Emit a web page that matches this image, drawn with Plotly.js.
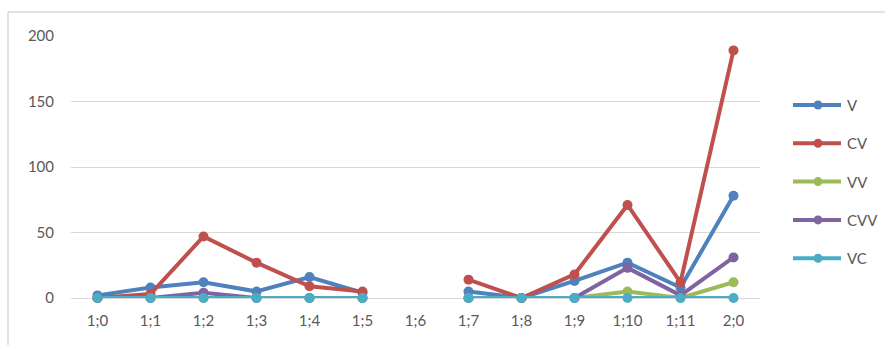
<!DOCTYPE html>
<html>
<head>
<meta charset="utf-8">
<script src="https://cdn.plot.ly/plotly-3.0.1.min.js"></script>
<style>html,body{margin:0;padding:0;background:#fff;}#chart{width:885px;height:345px;}</style>
</head>
<body>
<div id="chart"></div>
<script>
const categories = ["1;0","1;1","1;2","1;3","1;4","1;5","1;6","1;7","1;8","1;9","1;10","1;11","2;0"];
const V   = [2, 8, 12, 5, 16, 4, null, 5, 0, 13, 27, 8, 78];
const CV  = [0, 3, 47, 27, 9, 5, null, 14, 0, 18, 71, 12, 189];
const VV  = [0, 0, 0, 0, 0, 0, null, 0, 0, 0, 5, 0, 12];
const CVV = [0, 0, 4, 0, 0, 0, null, 0, 0, 0, 23, 2, 31];
const VC  = [0, 0, 0, 0, 0, 0, null, 0, 0, 0, 0, 0, 0];
const yTicks = [0, 50, 100, 150, 200];
const seriesNames = ["V","CV","VV","CVV","VC"];
const seriesValues = [V, CV, VV, CVV, VC];
const colors = ["#4F81BD","#C0504D","#9BBB59","#8064A2","#4BACC6"];

const W = 885, H = 345, L = 71, R = 125, T = 36, B = 47;
const PW = W - L - R, PH = H - T - B;
const px = p => (p - L) / PW;
const py = p => (H - B - p) / PH;

const traces = seriesNames.map((n,i)=>({
  type:'scatter', mode:'lines+markers', name:n, x:categories, y:seriesValues[i],
  connectgaps:false, cliponaxis:false, showlegend:false,
  line:{color:colors[i], width:4},
  marker:{color:colors[i], size:10, symbol:'circle'}
}));

// custom legend (Excel-style long line keys)
const shapes = [
  {type:'line', xref:'paper', yref:'paper', x0:px(8), x1:px(W), y0:py(12), y1:py(12), line:{color:'#d9d9d9', width:1.5}},
  {type:'line', xref:'paper', yref:'paper', x0:px(8), x1:px(8), y0:py(12), y1:py(H), line:{color:'#d9d9d9', width:1.5}}
];
const annotations = [];
seriesNames.forEach((n,i)=>{
  const yc = 105 + i*38.3;
  shapes.push({type:'line', xref:'paper', yref:'paper', x0:px(793), x1:px(841), y0:py(yc), y1:py(yc),
               line:{color:colors[i], width:4}});
  shapes.push({type:'circle', xref:'paper', yref:'paper', x0:px(813.5), x1:px(822.5), y0:py(yc-4.5), y1:py(yc+4.5),
               fillcolor:colors[i], line:{color:colors[i], width:0}});
  annotations.push({xref:'paper', yref:'paper', x:px(845), y:py(yc), xanchor:'left', yanchor:'middle',
                    text:n, showarrow:false, font:{size:15, color:'#595959'}});
});

const layout = {
  width:W, height:H,
  margin:{l:L, r:R, t:T, b:B},
  paper_bgcolor:'#ffffff', plot_bgcolor:'#ffffff',
  font:{family:'Lato, "Open Sans", sans-serif', size:15, color:'#595959'},
  showlegend:false,
  xaxis:{type:'category', categoryorder:'array', categoryarray:categories,
         range:[-0.5,12.5], showgrid:false, zeroline:false, showline:false,
         ticks:'', ticklabelstandoff:12, tickfont:{size:15,color:'#595959'}, fixedrange:true},
  yaxis:{range:[0,200], tickvals:yTicks, showgrid:true, gridcolor:'#d9d9d9',
         gridwidth:1, zeroline:true, zerolinecolor:'#d9d9d9', zerolinewidth:1,
         showline:false, ticks:'', ticklabelstandoff:16, tickfont:{size:15,color:'#595959'}, fixedrange:true},
  shapes: shapes,
  annotations: annotations
};
Plotly.newPlot('chart', traces, layout, {staticPlot:true, displayModeBar:false});
</script>
</body>
</html>
